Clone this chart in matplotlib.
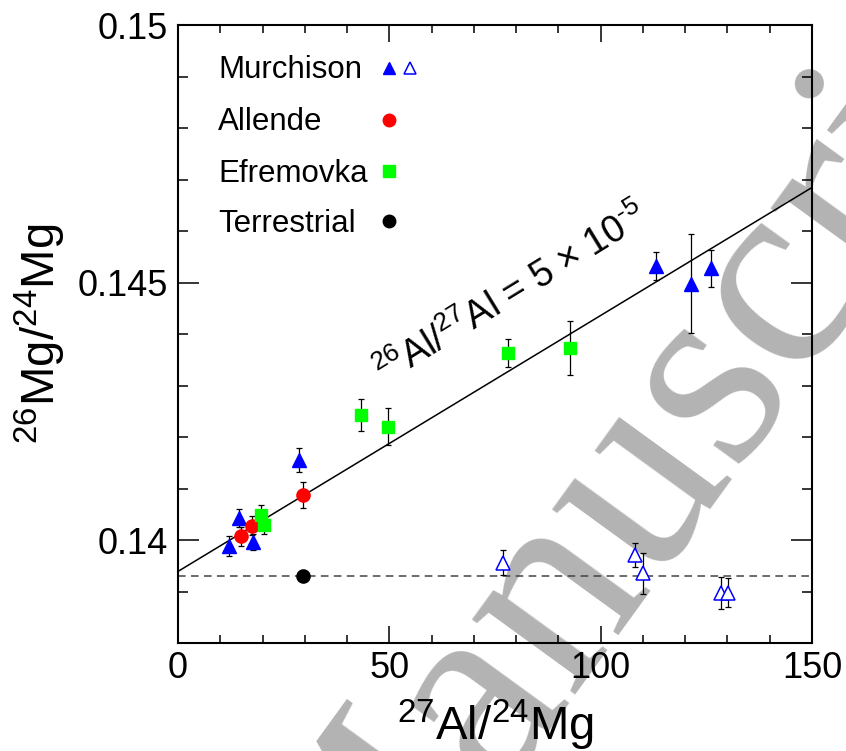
import matplotlib
matplotlib.use("Agg")
import matplotlib.pyplot as plt
from matplotlib.ticker import MultipleLocator, FixedLocator, FixedFormatter

plt.rcParams['font.family'] = ['Liberation Sans', 'DejaVu Sans']
plt.rcParams['mathtext.fontset'] = 'custom'
plt.rcParams['mathtext.rm'] = 'Liberation Sans'
plt.rcParams['mathtext.it'] = 'Liberation Sans:italic'
plt.rcParams['mathtext.bf'] = 'Liberation Sans:bold'

# Murchison, filled triangles
murch_x = [12.0, 14.4, 17.8, 28.6, 113.2, 121.3, 126.1]
murch_y = [0.13988, 0.14043, 0.13996, 0.14155, 0.14532, 0.14498, 0.14528]
murch_err = [0.00019, 0.00017, 0.00016, 0.00023, 0.00027, 0.00097, 0.00036]

# Murchison, open triangles
murch_open_x = [76.8, 108.1, 110.1, 128.5, 130.2]
murch_open_y = [0.13956, 0.13971, 0.13935, 0.13898, 0.13898]
murch_open_err = [0.00024, 0.00023, 0.00039, 0.00031, 0.00028]

# Allende
allende_x = [15.0, 17.5, 29.6]
allende_y = [0.14007, 0.14028, 0.14088]
allende_err = [0.00018, 0.00018, 0.00025]

# Efremovka
efrem_x = [19.6, 20.3, 43.2, 49.8, 78.1, 92.7]
efrem_y = [0.14049, 0.14029, 0.14242, 0.14220, 0.14363, 0.14373]
efrem_err = [0.00019, 0.00018, 0.00031, 0.00036, 0.00027, 0.00052]

# Terrestrial
terr_x = [29.6]
terr_y = [0.13930]

# isochron 26Al/27Al = 5e-5
fit_intercept = 0.13939
fit_slope = 4.97e-5
x_range = [0, 150]

xticks = [0, 50, 100, 150]
yticks = [0.14, 0.145, 0.15]
ytick_labels = ['0.14', '0.145', '0.15']

legend_labels = ['Murchison', 'Allende', 'Efremovka', 'Terrestrial']

fig = plt.figure(figsize=(8.46, 7.51), dpi=100)
ax = fig.add_axes([0.2104, 0.1438, 0.7494, 0.8229])
ax.set_facecolor('none')

# watermark behind everything
fig.text(0.415, -0.321, 'Manuscript', family=['Liberation Serif', 'DejaVu Serif'],
         fontsize=200, color='#b3b3b3', rotation=54, rotation_mode='anchor',
         ha='left', va='baseline', zorder=-1)

ax.plot(x_range, [fit_intercept + fit_slope * v for v in x_range], color='black', lw=1.1, zorder=2)
ax.axhline(terr_y[0], color='#444444', lw=1.1, dashes=(5, 3.5), zorder=1)

eb = dict(fmt='none', ecolor='black', elinewidth=0.9, capsize=2.5, capthick=0.9, zorder=3)
ax.errorbar(murch_x, murch_y, yerr=murch_err, **eb)
ax.errorbar(murch_open_x, murch_open_y, yerr=murch_open_err, **eb)
ax.errorbar(allende_x, allende_y, yerr=allende_err, **eb)
ax.errorbar(efrem_x, efrem_y, yerr=efrem_err, **eb)

ms = 9.5
ax.plot(murch_x, murch_y, '^', color='#0000ff', ms=ms, mec='#0000ff', zorder=4)
ax.plot(murch_open_x, murch_open_y, '^', ms=ms, mfc='white', mec='#0000ff', mew=1.1, zorder=4)
ax.plot(allende_x, allende_y, 'o', color='#ff0000', ms=ms, zorder=4)
ax.plot(efrem_x, efrem_y, 's', color='#00ff00', ms=ms - 0.5, zorder=4)
ax.plot(terr_x, terr_y, 'o', color='black', ms=ms, zorder=4)

# legend (ROOT style: text left, markers to the right)
leg_text_x = 0.063
leg_mark_x = [0.3328, 0.3659]
leg_base_y = [0.9142, 0.8301, 0.7464, 0.6655]
leg_styles = [dict(marker='^', color='#0000ff'), dict(marker='o', color='#ff0000'),
              dict(marker='s', color='#00ff00'), dict(marker='o', color='black')]
for i, lab in enumerate(legend_labels):
    ax.text(leg_text_x, leg_base_y[i], lab, transform=ax.transAxes, fontsize=22.5,
            ha='left', va='baseline')
    ax.plot([leg_mark_x[0]], [leg_base_y[i] + 0.017], transform=ax.transAxes,
            ls='none', ms=9, clip_on=False, **leg_styles[i])
ax.plot([leg_mark_x[1]], [leg_base_y[0] + 0.017], transform=ax.transAxes, ls='none',
        marker='^', ms=9, mfc='white', mec='#0000ff', mew=1.1, clip_on=False)

ax.text(79.0, 0.14476, '$^{26}$Al/$^{27}$Al = 5 $\\times$ 10$^{\u20105}$', fontsize=27,
        rotation=31.5, rotation_mode='anchor', ha='center', va='center')

ax.set_xlim(0, 150)
ax.set_ylim(0.138, 0.150)
ax.xaxis.set_major_locator(FixedLocator(xticks))
ax.xaxis.set_minor_locator(MultipleLocator(10))
ax.yaxis.set_major_locator(FixedLocator(yticks))
ax.yaxis.set_major_formatter(FixedFormatter(ytick_labels))
ax.yaxis.set_minor_locator(MultipleLocator(0.001))

ax.tick_params(which='both', direction='in', top=True, right=True, width=1.1, labelsize=26)
ax.tick_params(axis='x', which='major', length=12, pad=6)
ax.tick_params(axis='x', which='minor', length=6)
ax.tick_params(axis='y', which='major', length=15, pad=7)
ax.tick_params(axis='y', which='minor', length=7.5)
for sp in ax.spines.values():
    sp.set_linewidth(1.5)

ax.set_xlabel(r'$^{27}$Al/$^{24}$Mg', fontsize=34, labelpad=8)
ax.set_ylabel(r'$^{26}$Mg/$^{24}$Mg', fontsize=34, labelpad=7)

fig.savefig('out.png', dpi=100)
